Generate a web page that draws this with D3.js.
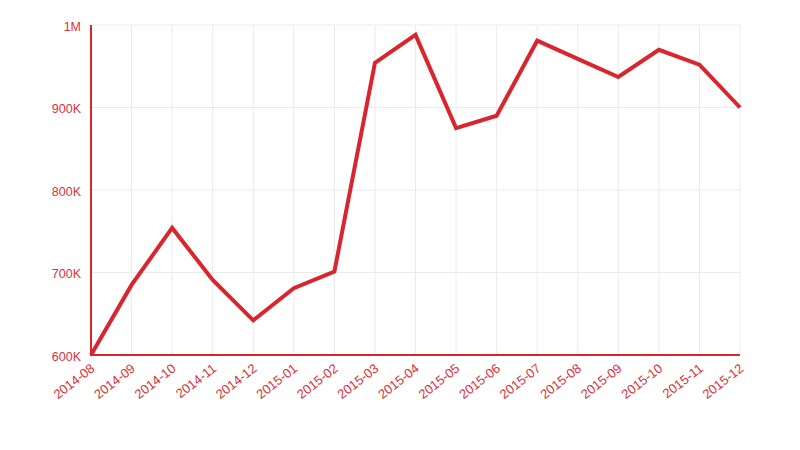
<!DOCTYPE html>
<html><head><meta charset="utf-8">
<script src="https://cdn.jsdelivr.net/npm/d3@7"></script>
<style>body{margin:0;background:#fff}svg{display:block}</style>
</head><body>
<svg id="chart" width="800" height="450"></svg>
<script>
const months = ["2014-08","2014-09","2014-10","2014-11","2014-12","2015-01","2015-02","2015-03","2015-04","2015-05","2015-06","2015-07","2015-08","2015-09","2015-10","2015-11","2015-12"];
const values = [600000,685000,754000,691000,642000,681000,701000,954000,988000,875000,890000,981000,959000,937000,970000,952000,900000];
const yTicks = [600000,700000,800000,900000,1000000];
const yTickLabels = ["600K","700K","800K","900K","1M"];

const red = "#d9262e";
const textRed = "#dd2f38";
const svg = d3.select("#chart");
const m = {l:91, r:60, t:25, b:95};
const W = 800, H = 450;
const x = d3.scalePoint().domain(months).range([m.l, W - m.r]);
const y = d3.scaleLinear().domain([600000,1000000]).range([H - m.b, m.t]);

// grid
svg.append("g").selectAll("line.v").data(months).join("line")
  .attr("x1", d => x(d)).attr("x2", d => x(d))
  .attr("y1", m.t).attr("y2", H - m.b)
  .attr("stroke", "#ebebeb").attr("stroke-width", 1);
svg.append("g").selectAll("line.h").data(yTicks).join("line")
  .attr("x1", m.l).attr("x2", W - m.r)
  .attr("y1", d => y(d)).attr("y2", d => y(d))
  .attr("stroke", "#ebebeb").attr("stroke-width", 1);

// y axis
const yAxis = d3.axisLeft(y).tickValues(yTicks)
  .tickFormat((d,i) => yTickLabels[i]).tickSize(0).tickPadding(10);
const gy = svg.append("g").attr("transform", `translate(${m.l},0)`).call(yAxis);
gy.select(".domain").remove();
gy.selectAll("text").attr("fill", textRed).attr("dy", "0.4em")
  .style("font-family", "Liberation Sans, Arial, sans-serif").style("font-size", "12.5px");

// x axis
const xAxis = d3.axisBottom(x).tickSize(0).tickPadding(0);
const gx = svg.append("g").attr("transform", `translate(0,${H - m.b})`).call(xAxis);
gx.select(".domain").remove();
gx.selectAll("text")
  .attr("fill", textRed)
  .style("font-family", "Liberation Sans, Arial, sans-serif").style("font-size", "13px")
  .attr("text-anchor", "end")
  .attr("y", 0).attr("dy", 0)
  .attr("transform", "translate(4,15) rotate(-38)");

// axis lines
svg.append("line").attr("x1", m.l).attr("x2", m.l).attr("y1", m.t).attr("y2", H - m.b + 1)
  .attr("stroke", red).attr("stroke-width", 2);
svg.append("line").attr("x1", m.l - 1).attr("x2", W - m.r).attr("y1", H - m.b).attr("y2", H - m.b)
  .attr("stroke", red).attr("stroke-width", 2);

// line
const line = d3.line().x((d,i) => x(months[i])).y(d => y(d));
svg.append("path").datum(values).attr("d", line)
  .attr("fill", "none").attr("stroke", red).attr("stroke-width", 4)
  .attr("stroke-linejoin", "miter");
</script>
</body></html>
